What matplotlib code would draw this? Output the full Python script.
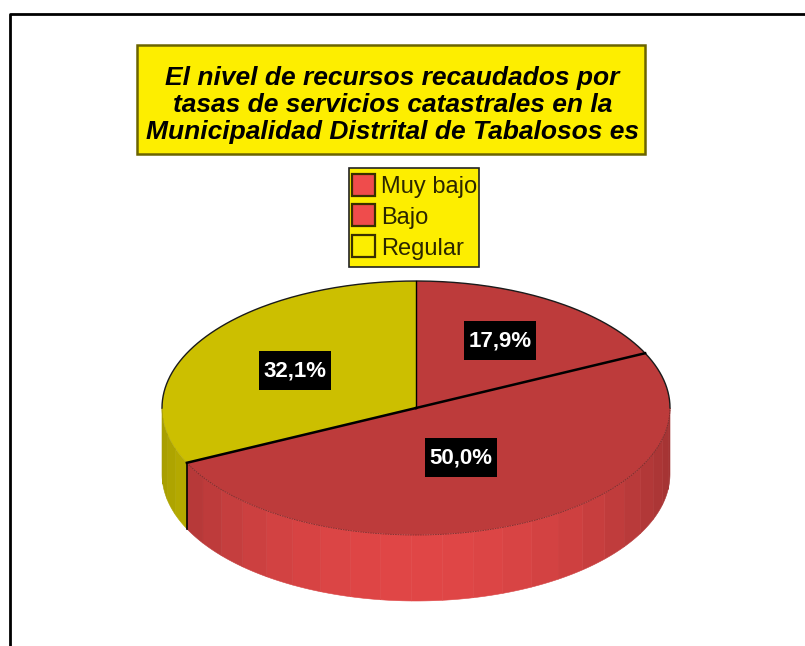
import numpy as np
import matplotlib
matplotlib.use("Agg")
import matplotlib.pyplot as plt
from matplotlib.patches import Rectangle

title = "El nivel de recursos recaudados por\ntasas de servicios catastrales en la\nMunicipalidad Distrital de Tabalosos es"
categories = ["Muy bajo", "Bajo", "Regular"]
values = [17.9, 50.0, 32.1]
labels = ["17,9%", "50,0%", "32,1%"]
top_colors = ["#bd3b3b", "#bd3b3b", "#ccbf00"]
side_colors = ["#e04646", "#e04646", "#e6d800"]
legend_colors = ["#ef4c4c", "#ef4c4c", "#fcee00"]

W, H = 805, 646
YELLOW = "#fdee00"
cx, cy, rx, ry, depth = 416, 408, 254, 127, 66

plt.rcParams["font.family"] = ["Liberation Sans", "DejaVu Sans"]
fig = plt.figure(figsize=(W / 100, H / 100), dpi=100)

# top of the pie: own axes so pie() stretches into an ellipse
ax2 = fig.add_axes([(cx - rx) / W, 1 - (cy + ry) / H, 2 * rx / W, 2 * ry / H])
ax2.pie(values, colors=top_colors, startangle=90, counterclock=False, radius=1,
        wedgeprops=dict(edgecolor="none", linewidth=0))
ax2.set_aspect("auto")
ax2.set_xlim(-1, 1)
ax2.set_ylim(-1, 1)
ax2.set_zorder(1)

# everything else in pixel coordinates on top of it
ax = fig.add_axes([0, 0, 1, 1])
ax.set_xlim(0, W)
ax.set_ylim(H, 0)
ax.axis("off")
ax.set_zorder(2)

# outer frame, open at right and bottom edge of the image
ax.plot([9.5, 9.5, W], [H, 13.5, 13.5], color="black", lw=2, zorder=1)


def ex(a):
    return cx + rx * np.cos(np.radians(a))


def ey(a):
    return cy - ry * np.sin(np.radians(a))


def shade(col, ang):
    # lighter at the front of the wall, darker towards the sides
    k = 0.72 + 0.28 * np.sin(np.radians(-ang)) ** 1.5
    return np.array(matplotlib.colors.to_rgb(col)) * k


# side wall, in bands
edges = np.cumsum([0] + values) / 100 * 360
starts = 90 - edges[:-1]
ends = 90 - edges[1:]
for i in range(len(values)):
    hi = min(starts[i], 0)
    lo = max(ends[i], -180)
    if hi <= lo:
        continue
    for a in np.arange(hi, lo, -7.0):
        b = max(a - 7.0, lo)
        t = np.linspace(a, b, 8)
        x, y = ex(t), ey(t)
        ax.fill(np.r_[x, x[::-1]], np.r_[y, y[::-1] + depth],
                color=shade(side_colors[i], (a + b) / 2), lw=0.4, zorder=2)
    # dark line down the wall where a slice starts
    if lo > -180:
        ax.plot([ex(lo)] * 2, [ey(lo), ey(lo) + depth], color="black", lw=1.2, zorder=3)

# rim of the top: black at the back, faint over the red wall at the front
t = np.linspace(0, 180, 200)
ax.plot(ex(t), ey(t), color="#1a1a1a", lw=1.0, zorder=4)
t = np.linspace(ends[1], 0, 200)
ax.plot(ex(t), ey(t), color="#7a2a2a", lw=0.6, ls=(0, (2, 1)), zorder=4)

# slice borders from the centre
for a, lw in zip(starts, [1.0, 1.8, 1.8]):
    ax.plot([cx, ex(a)], [cy, ey(a)], color="black", lw=lw, zorder=4)

# percent labels
pos = [(500, 340.5), (461, 457.5), (295, 370.5)]
for lab, (x, y) in zip(labels, pos):
    ax.add_patch(Rectangle((x - 36, y - 19.5), 72, 39, fc="black", ec="none", zorder=5))
    ax.text(x, y + 0.5, lab, color="white", fontsize=16, fontweight="bold", ha="center", va="center", zorder=6)

# title box
ax.add_patch(Rectangle((137, 44.5), 508, 109.5, fc=YELLOW, ec="#6b6400", lw=1.8, zorder=5))
ax.text(392.5, 105, title, fontsize=19, fontweight="bold", style="italic", ha="center", va="center",
        linespacing=1.14, color="black", zorder=6)

# legend
ax.add_patch(Rectangle((348.5, 167.5), 130, 99.5, fc=YELLOW, ec="#222222", lw=1.2, zorder=5))
for i, (c, col) in enumerate(zip(categories, legend_colors)):
    y = 184.5 + i * 30.7
    ax.add_patch(Rectangle((352, y - 11), 22.5, 22, fc=col, ec="#3a3000", lw=1.6, zorder=6))
    ax.text(381, y + 3, c, fontsize=17, va="center", ha="left", color="#2b2600", zorder=6)

fig.savefig("out.png", dpi=100)
